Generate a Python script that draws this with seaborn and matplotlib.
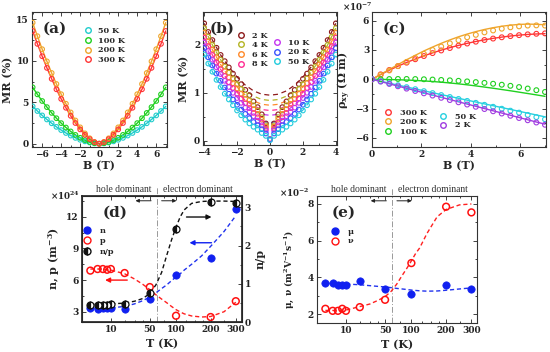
import numpy as np
import pandas as pd
import matplotlib
matplotlib.use("Agg")
import matplotlib.pyplot as plt
import seaborn as sns
from matplotlib.lines import Line2D
from matplotlib.ticker import MultipleLocator, FixedLocator, NullFormatter, FixedFormatter
import matplotlib.transforms as mtrans

# ---------------- data ----------------
# (a) MR vs B, half sweep (B >= 0), symmetric in B
a_B_half = [0.0, 0.5, 1.0, 1.5, 2.0, 2.5, 3.0, 3.5, 4.0, 4.5, 5.0, 5.5, 6.0, 6.5, 7.0]
a_labels = ["50 K", "100 K", "200 K", "300 K"]
a_mr_50 = [0, 0.04, 0.14, 0.28, 0.47, 0.70, 0.98, 1.29, 1.64, 2.03, 2.46, 2.92, 3.41, 3.94, 4.5]
a_mr_100 = [0, 0.06, 0.20, 0.43, 0.71, 1.06, 1.48, 1.95, 2.48, 3.07, 3.71, 4.41, 5.15, 5.95, 6.8]
a_mr_200 = [0, 0.21, 0.65, 1.24, 1.97, 2.80, 3.77, 4.82, 5.97, 7.20, 8.53, 9.93, 11.40, 12.97, 14.6]
a_mr_300 = [0, 0.18, 0.55, 1.07, 1.72, 2.49, 3.36, 4.33, 5.40, 6.56, 7.82, 9.14, 10.55, 12.04, 13.6]
a_colors = ["#20CCCC", "#20D020", "#EFA52C", "#FF3535"]

# (b) low-T MR, half sweep
b_B_half = [0.0, 0.25, 0.5, 0.75, 1.0, 1.25, 1.5, 1.75, 2.0, 2.25, 2.5, 2.75, 3.0, 3.25, 3.5, 3.75, 4.0]
b_labels = ["2 K", "4 K", "6 K", "8 K", "10 K", "20 K", "50 K"]
b_mr_2 = [0.03, 0.36, 0.55, 0.70, 0.82, 0.95, 1.06, 1.18, 1.29, 1.40, 1.53, 1.66, 1.79, 1.94, 2.10, 2.27, 2.45]
b_mr_4 = [0.03, 0.32, 0.49, 0.63, 0.74, 0.85, 0.96, 1.08, 1.18, 1.30, 1.42, 1.55, 1.69, 1.84, 2.00, 2.17, 2.35]
b_mr_6 = [0.03, 0.29, 0.44, 0.56, 0.66, 0.77, 0.87, 0.98, 1.09, 1.20, 1.32, 1.45, 1.59, 1.74, 1.90, 2.07, 2.25]
b_mr_8 = [0.03, 0.25, 0.38, 0.49, 0.58, 0.68, 0.78, 0.88, 0.98, 1.10, 1.22, 1.35, 1.49, 1.63, 1.79, 1.97, 2.15]
b_mr_10 = [0.03, 0.21, 0.32, 0.42, 0.51, 0.60, 0.69, 0.79, 0.89, 1.00, 1.12, 1.25, 1.39, 1.53, 1.69, 1.87, 2.05]
b_mr_20 = [0.02, 0.15, 0.24, 0.32, 0.39, 0.47, 0.56, 0.65, 0.75, 0.86, 0.98, 1.11, 1.25, 1.40, 1.57, 1.74, 1.93]
b_mr_50 = [0.01, 0.10, 0.16, 0.23, 0.29, 0.36, 0.44, 0.53, 0.63, 0.74, 0.86, 0.98, 1.12, 1.27, 1.44, 1.61, 1.80]
b_fit_B_half = [0.0, 0.5, 1.0, 1.5, 2.0, 2.5, 3.0, 3.5, 4.0]
b_fit_2 = [0.95, 0.97, 1.04, 1.16, 1.33, 1.54, 1.79, 2.10, 2.45]
b_fit_4 = [0.84, 0.86, 0.93, 1.05, 1.22, 1.43, 1.69, 2.00, 2.35]
b_fit_6 = [0.74, 0.76, 0.83, 0.95, 1.12, 1.33, 1.59, 1.90, 2.25]
b_fit_8 = [0.63, 0.65, 0.73, 0.84, 1.01, 1.22, 1.49, 1.79, 2.15]
b_fit_10 = [0.53, 0.55, 0.63, 0.74, 0.91, 1.12, 1.39, 1.69, 2.05]
b_fit_20 = [0.38, 0.40, 0.48, 0.60, 0.77, 0.99, 1.25, 1.57, 1.93]
b_fit_50 = [0.25, 0.27, 0.35, 0.47, 0.64, 0.86, 1.12, 1.44, 1.80]
b_colors = ["#8E1B1B", "#B4B424", "#FF8A2A", "#FF2E92", "#C436F0", "#3A52FF", "#22CCDD"]

# (c) Hall resistivity (x1e-7 Ohm m)
c_B = [0, 0.35, 0.7, 1.05, 1.4, 1.75, 2.1, 2.45, 2.8, 3.15, 3.5, 3.85, 4.2, 4.55, 4.9, 5.25, 5.6, 5.95, 6.3, 6.65, 7.0]
c_labels = ["300 K", "200 K", "100 K", "50 K", "2 K"]
c_rho_300 = [0, 0.5, 0.95, 1.35, 1.7, 2.05, 2.38, 2.68, 2.95, 3.2, 3.45, 3.66, 3.85, 4.02, 4.17, 4.3, 4.42, 4.52, 4.6, 4.66, 4.7]
c_rho_200 = [0, 0.45, 0.9, 1.35, 1.78, 2.2, 2.6, 3.0, 3.35, 3.68, 4.0, 4.3, 4.55, 4.8, 5.0, 5.18, 5.32, 5.42, 5.5, 5.52, 5.5]
c_rho_100 = [0, 0.0, 0.02, 0.03, 0.03, 0.02, 0.0, -0.03, -0.07, -0.11, -0.16, -0.22, -0.29, -0.37, -0.46, -0.56, -0.67, -0.8, -0.95, -1.12, -1.3]
c_rho_50 = [0, -0.2, -0.41, -0.61, -0.81, -1.02, -1.22, -1.42, -1.62, -1.82, -2.02, -2.22, -2.42, -2.62, -2.82, -3.02, -3.22, -3.42, -3.65, -3.88, -4.1]
c_rho_2 = [0, -0.24, -0.48, -0.72, -0.96, -1.2, -1.44, -1.67, -1.9, -2.13, -2.36, -2.59, -2.82, -3.05, -3.28, -3.51, -3.74, -3.97, -4.2, -4.43, -4.66]
c_fit_300 = [0, 0.48, 0.93, 1.34, 1.72, 2.07, 2.4, 2.7, 2.98, 3.24, 3.47, 3.68, 3.87, 4.04, 4.19, 4.32, 4.43, 4.52, 4.59, 4.64, 4.67]
c_fit_200 = [0, 0.5, 1.0, 1.5, 2.0, 2.45, 2.9, 3.3, 3.68, 4.03, 4.35, 4.63, 4.88, 5.1, 5.28, 5.43, 5.54, 5.62, 5.65, 5.63, 5.58]
c_fit_100 = [0, -0.01, -0.03, -0.05, -0.08, -0.12, -0.17, -0.23, -0.3, -0.38, -0.47, -0.57, -0.68, -0.8, -0.92, -1.05, -1.18, -1.32, -1.46, -1.6, -1.75]
c_fit_50 = [0, -0.2, -0.4, -0.6, -0.79, -0.99, -1.18, -1.38, -1.57, -1.76, -1.95, -2.14, -2.33, -2.52, -2.71, -2.9, -3.09, -3.28, -3.47, -3.66, -3.85]
c_fit_2 = [0, -0.23, -0.47, -0.7, -0.93, -1.16, -1.39, -1.62, -1.85, -2.08, -2.31, -2.54, -2.77, -3.0, -3.23, -3.46, -3.69, -3.92, -4.15, -4.38, -4.6]
c_colors = ["#FF3535", "#EFA52C", "#20D020", "#28D0E0", "#A03CE0"]

# (d), (e) carrier analysis vs T
T = [2, 4, 6, 8, 10, 20, 50, 100, 200, 300]
n_dens = [3.35, 3.3, 3.4, 3.4, 3.4, 3.3, 4.2, 6.45, 8.1, 12.7]
p_dens = [6.9, 7.05, 7.05, 6.98, 7.05, 6.67, 5.34, 2.62, 2.5, 4.0]
n_over_p = [0.46, 0.45, 0.46, 0.46, 0.47, 0.47, 0.76, 2.43, 3.13, 3.1]
mu = [3.67, 3.67, 3.58, 3.58, 3.58, 3.78, 3.38, 3.09, 3.58, 3.38]
nu = [2.29, 2.18, 2.18, 2.29, 2.18, 2.38, 2.78, 4.78, 7.85, 7.54]
T_fit = [2, 5, 10, 20, 30, 40, 50, 60, 70, 80, 90, 100, 110, 120, 140, 170, 200, 250, 300]
n_fit = [3.35, 3.35, 3.37, 3.5, 3.75, 4.05, 4.4, 4.8, 5.2, 5.55, 5.95, 6.3, 6.6, 6.95, 7.5, 8.3, 9.2, 10.6, 12.1]
p_fit = [7.05, 7.05, 6.95, 6.6, 6.1, 5.6, 5.1, 4.6, 4.2, 3.85, 3.5, 3.2, 2.98, 2.8, 2.6, 2.5, 2.55, 3.0, 3.9]
np_fit = [0.47, 0.47, 0.48, 0.5, 0.55, 0.62, 0.75, 0.98, 1.3, 1.75, 2.15, 2.48, 2.75, 2.93, 3.1, 3.15, 3.16, 3.16, 3.15]
mu_fit = [3.68, 3.66, 3.64, 3.6, 3.55, 3.51, 3.48, 3.44, 3.4, 3.37, 3.34, 3.31, 3.29, 3.27, 3.25, 3.26, 3.3, 3.37, 3.43]
nu_fit = [2.2, 2.2, 2.22, 2.41, 2.55, 2.75, 2.95, 3.25, 3.65, 4.1, 4.5, 4.9, 5.3, 5.6, 6.4, 7.3, 7.7, 7.95, 8.0]
T_ticks = [10, 50, 100, 200, 300]
T_minor = [20, 30, 40, 75, 125, 150, 175, 250]
T_cross = 61
regime_labels = ["hole dominant", "electron dominant"]

# ---------------- style ----------------
sns.set_theme(style="ticks")
plt.rcParams["font.family"] = ["DejaVu Serif"]
plt.rcParams["font.weight"] = "bold"
plt.rcParams["axes.labelweight"] = "bold"
plt.rcParams["mathtext.fontset"] = "dejavuserif"
plt.rcParams["mathtext.default"] = "regular"

fig = plt.figure(figsize=(5.5, 3.52), dpi=100)
W, H = 550.0, 352.0
LEG_FS = 5.9


def make_ax(l, r, t, b):
    return fig.add_axes([l / W, (H - b) / H, (r - l) / W, (b - t) / H])


def style(ax, right=True):
    ax.tick_params(which="both", direction="in", top=True, right=right,
                   labelsize=6.5, width=0.6, pad=2, colors="#222222")
    ax.tick_params(which="major", length=3)
    ax.tick_params(which="minor", length=1.6)
    for s in ax.spines.values():
        s.set_linewidth(0.8)
        s.set_color("#333333")


def mirror(half):
    return list(reversed(half[1:])) + list(half)


def neg_mirror(half):
    return [-v for v in reversed(half[1:])] + list(half)


def open_pts(ax, x, y, col, s=11, lw=0.8):
    sns.scatterplot(x=x, y=y, ax=ax, marker="o", s=s, facecolors="none",
                    edgecolor=col, linewidth=lw, zorder=3)


def line(ax, x, y, col, lw=0.9, ls="-", z=2):
    sns.lineplot(x=x, y=y, ax=ax, color=col, lw=lw, linestyle=ls,
                 estimator=None, sort=False, zorder=z)


def mhandle(col, ms=4.0, mfc="none", fs="full"):
    return Line2D([], [], ls="none", marker="o", mfc=mfc, mec=col, ms=ms,
                  mew=1.0, fillstyle=fs, color=col)


def leg(ax, handles, labels, anchor, spacing=0.2, hl=1.0, fs=LEG_FS, tp=0.8):
    return ax.legend(handles=handles, labels=labels, loc="upper left",
                     bbox_to_anchor=anchor, frameon=False, fontsize=fs,
                     handletextpad=tp, labelspacing=spacing, borderpad=0,
                     borderaxespad=0, handlelength=hl)


# ---------------- (a) ----------------
axa = make_ax(31.7, 166.7, 12.3, 147)
a_B = neg_mirror(a_B_half)
for vals, col in zip([a_mr_50, a_mr_100, a_mr_200, a_mr_300], a_colors):
    full = mirror(vals)
    line(axa, a_B, full, col, lw=1.0)
    open_pts(axa, a_B, full, col)
axa.set_xlim(-7.1, 7.1)
axa.set_ylim(-0.4, 15.85)
axa.xaxis.set_major_locator(MultipleLocator(2))
axa.xaxis.set_minor_locator(MultipleLocator(1))
axa.yaxis.set_major_locator(MultipleLocator(5))
axa.yaxis.set_minor_locator(MultipleLocator(2.5))
axa.set_xlabel("B (T)", fontsize=8, labelpad=1)
axa.set_ylabel("MR (%)", fontsize=8, labelpad=2)
style(axa)
leg(axa, [mhandle(c) for c in a_colors], a_labels, (0.385, 0.89))
axa.text(0.08, 0.88, "(a)", transform=axa.transAxes, fontsize=11, fontweight="bold", va="center")

# ---------------- (b) ----------------
axb = make_ax(203, 337, 12.3, 145)
b_B = neg_mirror(b_B_half)
b_fB = neg_mirror(b_fit_B_half)
b_data = [b_mr_2, b_mr_4, b_mr_6, b_mr_8, b_mr_10, b_mr_20, b_mr_50]
b_fits = [b_fit_2, b_fit_4, b_fit_6, b_fit_8, b_fit_10, b_fit_20, b_fit_50]
for vals, fv, col in zip(b_data, b_fits, b_colors):
    line(axb, b_fB, mirror(fv), col, lw=0.9, ls=(0, (4, 3)))
    open_pts(axb, b_B, mirror(vals), col)
axb.set_xlim(-4.07, 4.07)
axb.set_ylim(-0.09, 2.68)
axb.xaxis.set_major_locator(MultipleLocator(2))
axb.xaxis.set_minor_locator(MultipleLocator(1))
axb.yaxis.set_major_locator(MultipleLocator(1))
axb.yaxis.set_minor_locator(MultipleLocator(0.5))
axb.set_xlabel("B (T)", fontsize=8, labelpad=1)
axb.set_ylabel("MR (%)", fontsize=8, labelpad=3)
style(axb)
lg1 = leg(axb, [mhandle(c) for c in b_colors[:4]], b_labels[:4], (0.255, 0.855))
axb.add_artist(lg1)
leg(axb, [mhandle(c) for c in b_colors[4:]], b_labels[4:], (0.525, 0.80))
axb.text(0.05, 0.88, "(b)", transform=axb.transAxes, fontsize=11, fontweight="bold", va="center")

# ---------------- (c) ----------------
axc = make_ax(372, 545.5, 12.3, 147)
c_data = [c_rho_300, c_rho_200, c_rho_100, c_rho_50, c_rho_2]
c_fits = [c_fit_300, c_fit_200, c_fit_100, c_fit_50, c_fit_2]
for vals, fv, col in zip(c_data, c_fits, c_colors):
    line(axc, c_B, fv, col, lw=1.0)
    open_pts(axc, c_B, vals, col, s=12)
axc.set_xlim(0, 7.02)
axc.set_ylim(-6.94, 6.86)
axc.xaxis.set_major_locator(MultipleLocator(2))
axc.xaxis.set_minor_locator(MultipleLocator(1))
axc.yaxis.set_major_locator(MultipleLocator(3))
axc.yaxis.set_minor_locator(MultipleLocator(1.5))
axc.set_xlabel("B (T)", fontsize=8, labelpad=1)
axc.set_ylabel(r"$\rho_{xy}$ ($\Omega$ m)", fontsize=8, labelpad=2)
style(axc)
axc.text(-0.085, 1.04, r"$\times$10$^{-7}$", transform=axc.transAxes, fontsize=6.3,
         ha="center", va="center")
lc1 = leg(axc, [mhandle(c) for c in c_colors[:3]], c_labels[:3], (0.068, 0.285), tp=1.0)
axc.add_artist(lc1)
leg(axc, [mhandle(c) for c in c_colors[3:]], c_labels[3:], (0.385, 0.255), tp=1.0, spacing=0.1)
axc.text(0.06, 0.88, "(c)", transform=axc.transAxes, fontsize=11, fontweight="bold", va="center")


# ---------------- (d), (e) common ----------------
def fwd(t):
    t = np.asarray(t, dtype=float)
    return np.sign(t) * np.abs(t) ** 0.4


def inv(u):
    u = np.asarray(u, dtype=float)
    return np.sign(u) * np.abs(u) ** 2.5


def t_axis(ax):
    ax.set_xscale("function", functions=(fwd, inv))
    ax.set_xlim(0.6, 327)
    ax.xaxis.set_major_locator(FixedLocator(T_ticks))
    ax.xaxis.set_major_formatter(FixedFormatter([str(t) for t in T_ticks]))
    ax.xaxis.set_minor_locator(FixedLocator(T_minor))
    ax.xaxis.set_minor_formatter(NullFormatter())
    ax.set_xlabel("T (K)", fontsize=8, labelpad=3)


def header(ax):
    ax.axvline(T_cross, ymin=0, ymax=1.07, color="#999999", lw=0.7,
               ls=(0, (6, 2, 1, 2)), clip_on=False, zorder=1)
    tr = mtrans.blended_transform_factory(ax.transData, ax.transAxes)
    ax.text(19.5, 1.05, regime_labels[0], transform=tr, fontsize=6.9,
            family="Liberation Serif", fontweight="normal", ha="center",
            va="center", color="#333333")
    ax.text(157, 1.05, regime_labels[1], transform=tr, fontsize=6.9,
            family="Liberation Serif", fontweight="normal", ha="center",
            va="center", color="#333333")
    ax.annotate("", xy=(31, 0.96), xytext=(52, 0.96), xycoords=tr, textcoords=tr,
                arrowprops=dict(arrowstyle="-|>", color="#222222", lw=0.7,
                                mutation_scale=5, shrinkA=0, shrinkB=0))
    ax.annotate("", xy=(101, 0.96), xytext=(70, 0.96), xycoords=tr, textcoords=tr,
                arrowprops=dict(arrowstyle="-|>", color="#222222", lw=0.7,
                                mutation_scale=5, shrinkA=0, shrinkB=0))


# ---------------- (d) ----------------
axd = make_ax(81.7, 241.7, 195.7, 322.3)
axd2 = axd.twinx()
t_axis(axd)
header(axd)
line(axd, T_fit, n_fit, "#2233EE", lw=1.0, ls=(0, (3, 2)))
line(axd, T_fit, p_fit, "#FF2020", lw=1.0, ls=(0, (3, 2)))
sns.scatterplot(x=T, y=n_dens, ax=axd, marker="o", s=28, color="#1020F0",
                edgecolor="#1020F0", linewidth=0.5, zorder=4)
open_pts(axd, T, p_dens, "#FF1010", s=24, lw=1.1)
line(axd2, T_fit, np_fit, "#111111", lw=1.0, ls=(0, (3, 2)))
sns.lineplot(x=T, y=n_over_p, ax=axd2, estimator=None, sort=False, linestyle="none",
             marker="o", markersize=5, fillstyle="left", color="#111111",
             markerfacecoloralt="white", markeredgecolor="#111111", markeredgewidth=0.9,
             zorder=4)
axd.set_ylim(2, 14)
axd2.set_ylim(0, 3.3)
axd.yaxis.set_major_locator(MultipleLocator(3))
axd.yaxis.set_minor_locator(MultipleLocator(1.5))
axd2.yaxis.set_major_locator(MultipleLocator(1))
axd2.yaxis.set_minor_locator(MultipleLocator(0.5))
axd.set_ylabel(r"n, p (m$^{-3}$)", fontsize=8, labelpad=3)
axd2.set_ylabel("n/p", fontsize=8, labelpad=3)
style(axd, right=False)
axd2.tick_params(which="both", direction="in", right=True, labelsize=6.5, width=0.6,
                 pad=2, colors="#222222")
axd2.tick_params(which="major", length=3)
axd2.tick_params(which="minor", length=1.6)
axd.text(-0.105, 1.0, r"$\times$10$^{24}$", transform=axd.transAxes, fontsize=6.3,
         ha="center", va="center")
axd.annotate("", xy=(203, 11.98), xytext=(126, 11.98),
             arrowprops=dict(arrowstyle="-|>", color="#111111", lw=1.0,
                             mutation_scale=7, shrinkA=0, shrinkB=0))
axd.annotate("", xy=(134, 9.54), xytext=(203, 9.54),
             arrowprops=dict(arrowstyle="-|>", color="#1020F0", lw=1.0,
                             mutation_scale=7, shrinkA=0, shrinkB=0))
axd.annotate("", xy=(7, 6.0), xytext=(22.4, 6.0),
             arrowprops=dict(arrowstyle="-|>", color="#FF1010", lw=1.0,
                             mutation_scale=7, shrinkA=0, shrinkB=0))
leg(axd, [mhandle("#1020F0", ms=5, mfc="#1020F0"), mhandle("#FF1010", ms=5),
          Line2D([], [], ls="none", marker="o", ms=5, fillstyle="left",
                 color="#111111", mec="#111111", markerfacecoloralt="white")],
    ["n", "p", "n/p"], (0.01, 0.755), spacing=0.3, tp=1.0)
axd.text(0.13, 0.87, "(d)", transform=axd.transAxes, fontsize=11, fontweight="bold", va="center")

# ---------------- (e) ----------------
axe = make_ax(316.7, 477.3, 195.7, 323.3)
t_axis(axe)
header(axe)
line(axe, T_fit, mu_fit, "#2233EE", lw=1.0, ls=(0, (3, 2)))
line(axe, T_fit, nu_fit, "#FF2020", lw=1.0, ls=(0, (3, 2)))
sns.scatterplot(x=T, y=mu, ax=axe, marker="o", s=28, color="#1020F0",
                edgecolor="#1020F0", linewidth=0.5, zorder=4)
open_pts(axe, T, nu, "#FF1010", s=24, lw=1.1)
axe.set_ylim(1.5, 8.45)
axe.yaxis.set_major_locator(MultipleLocator(2))
axe.yaxis.set_minor_locator(MultipleLocator(1))
axe.set_ylabel(r"μ, ν (m$^{2}$V$^{-1}$s$^{-1}$)", fontsize=6.6, labelpad=3)
axe.yaxis.set_label_coords(-0.13, 0.42)
style(axe)
axe.text(-0.14, 1.02, r"$\times$10$^{-2}$", transform=axe.transAxes, fontsize=6.3,
         ha="center", va="center")
leg(axe, [mhandle("#1020F0", ms=5, mfc="#1020F0"), mhandle("#FF1010", ms=5)],
    ["μ", "ν"], (0.09, 0.745), spacing=0.15, tp=1.0)
axe.text(0.09, 0.87, "(e)", transform=axe.transAxes, fontsize=11, fontweight="bold", va="center")

fig.savefig("out.png", dpi=100)
